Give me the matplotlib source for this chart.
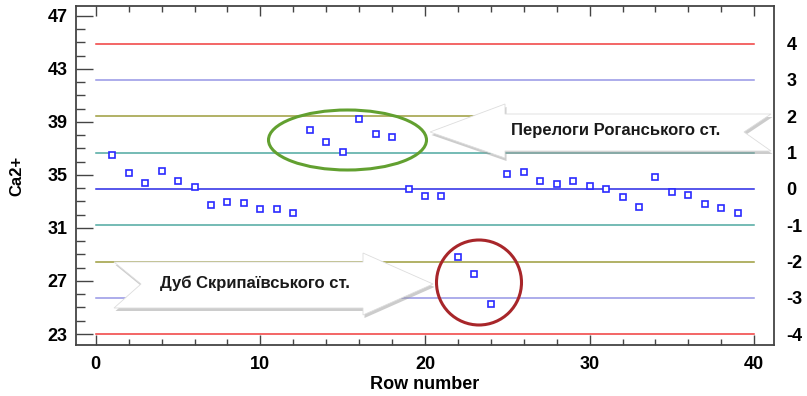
import matplotlib
matplotlib.use("Agg")
import matplotlib.pyplot as plt
from matplotlib.patches import Polygon, Ellipse
from matplotlib.transforms import Affine2D
from matplotlib.ticker import MultipleLocator

plt.rcParams['font.family'] = ['Liberation Sans', 'DejaVu Sans']
plt.rcParams['font.weight'] = 'bold'

# data
rows = list(range(1, 40))
ca = [36.51, 35.13, 34.42, 35.28, 34.57, 34.09, 32.76, 32.98, 32.91, 32.43,
      32.43, 32.11, 38.42, 37.47, 36.76, 39.20, 38.09, 37.87, 33.94, 33.44,
      33.44, 28.81, 27.55, 25.29, 35.05, 35.20, 34.57, 34.32, 34.57, 34.17,
      33.92, 33.32, 32.61, 34.87, 33.69, 33.51, 32.79, 32.53, 32.13]

# control limits (sigma levels) and their values
sigma_labels = ['4', '3', '2', '1', '0', '-1', '-2', '-3', '-4']
limit_values = [44.91, 42.17, 39.43, 36.69, 33.95, 31.21, 28.47, 25.73, 22.99]
limit_colors = ['#f03c3c', '#9696e6', '#9c9c3c', '#4ea8a0', '#2828e6',
                '#4ea8a0', '#9c9c3c', '#9696e6', '#f03c3c']

W, H = 807, 396
fig = plt.figure(figsize=(W / 100, H / 100), dpi=100)
ax = fig.add_axes([76 / W, 1 - 345 / H, (774 - 76) / W, (345 - 6) / H])

for v, c in zip(limit_values, limit_colors):
    ax.plot([0, 40], [v, v], color=c, lw=1.1, zorder=1)

ax.plot(rows, ca, linestyle='none', marker='s', markersize=4.2,
        markerfacecolor='white', markeredgecolor='#2a2aff', markeredgewidth=1.2,
        zorder=5)

ax.set_xlim(-1.2, 41.2)
ax.set_ylim(22.17, 47.75)
ax.xaxis.set_major_locator(MultipleLocator(10))
ax.xaxis.set_minor_locator(MultipleLocator(2))
ax.yaxis.set_major_locator(MultipleLocator(4))
ax.yaxis.set_minor_locator(MultipleLocator(1))
ax.set_yticks([23, 27, 31, 35, 39, 43, 47])
ax.tick_params(which='both', direction='in', top=True, right=True,
               color='#444444', labelsize=13, width=1)
ax.tick_params(axis='y', which='major', length=12, pad=6)
ax.tick_params(axis='y', which='minor', length=6.5)
ax.tick_params(axis='x', which='major', length=7, pad=8)
ax.tick_params(axis='x', which='minor', length=4)
for s in ax.spines.values():
    s.set_color('#444444')
    s.set_linewidth(1.3)

ax.set_xlabel('Row number', fontsize=13, fontweight='bold', labelpad=2)
ax.set_ylabel('Ca2+', fontsize=12, fontweight='bold', labelpad=17)

ax2 = ax.twinx()
ax2.set_ylim(ax.get_ylim())
ax2.set_yticks(limit_values)
ax2.set_yticklabels(sigma_labels)
ax2.tick_params(axis='y', length=0, pad=9, labelsize=13)
for s in ax2.spines.values():
    s.set_visible(False)

# annotations drawn in pixel coordinates (origin top-left)
px = Affine2D().scale(1 / W, -1 / H).translate(0, 1) + fig.transFigure


def block_arrow(pts):
    sh = [(x + 1.5, y + 3) for x, y in pts]
    fig.add_artist(Polygon(sh, closed=True, transform=px, facecolor='#9a9a9a',
                           edgecolor='none', alpha=0.5, zorder=6))
    fig.add_artist(Polygon(pts, closed=True, transform=px, facecolor='white',
                           edgecolor='#dddddd', lw=0.6, zorder=7))


block_arrow([(430, 132), (505, 104), (505, 114), (771, 114), (744, 132),
             (771, 151), (505, 151), (505, 158)])
block_arrow([(114, 262), (141, 284), (114, 308), (363, 308), (363, 315),
             (433, 284), (363, 253), (363, 262)])

fig.text(616 / W, 1 - 130 / H, 'Перелоги Роганського ст.', fontsize=12,
         fontweight='bold', ha='center', va='center', color='#1a1a1a', zorder=8)
fig.text(255 / W, 1 - 283 / H, 'Дуб Скрипаївського ст.', fontsize=12,
         fontweight='bold', ha='center', va='center', color='#1a1a1a', zorder=8)

fig.add_artist(Ellipse((347.5, 140), 158, 60, transform=px, fill=False,
                       edgecolor='#62a030', lw=2.2, zorder=8))
fig.add_artist(Ellipse((479, 282.5), 85, 85, transform=px, fill=False,
                       edgecolor='#a8262a', lw=2.2, zorder=8))

fig.savefig('out.png', dpi=100)
